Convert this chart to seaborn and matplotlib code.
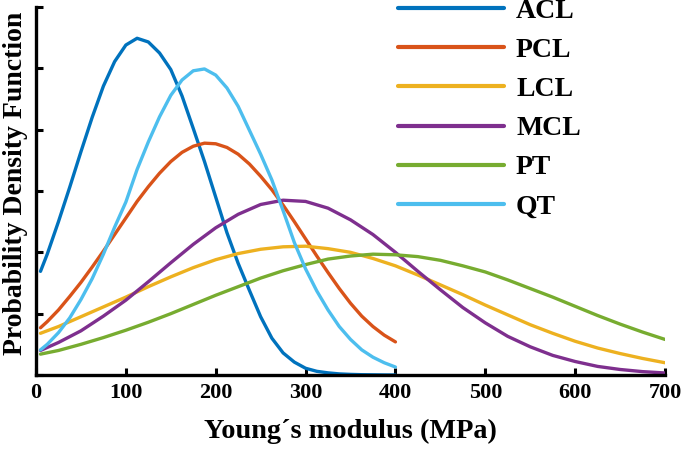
import numpy as np
import pandas as pd
import matplotlib
matplotlib.use('Agg')
import matplotlib.pyplot as plt
import seaborn as sns

# Young's modulus grid (MPa)
e_short = [5, 12.5, 25, 37.5, 50, 62.5, 75, 87.5, 100, 112.5, 125, 137.5, 150, 162.5,
           175, 187.5, 200, 212.5, 225, 237.5, 250, 262.5, 275, 287.5, 300, 312.5,
           325, 337.5, 350, 362.5, 375, 387.5, 400]
e_long = [5, 25, 50, 75, 100, 125, 150, 175, 200, 225, 250, 275, 300, 325, 350, 375,
          400, 425, 450, 475, 500, 525, 550, 575, 600, 625, 650, 675, 700]

# probability density (x 1e-3)
acl = [1.69, 1.97, 2.50, 3.06, 3.64, 4.20, 4.71, 5.11, 5.38, 5.49, 5.43, 5.25, 4.98,
       4.55, 4.02, 3.48, 2.90, 2.32, 1.82, 1.38, 0.95, 0.60, 0.36, 0.21, 0.11, 0.06,
       0.035, 0.018, 0.010, 0.005, 0.003, 0.001, 0.0]
pcl = [0.77, 0.87, 1.06, 1.28, 1.51, 1.76, 2.02, 2.29, 2.56, 2.83, 3.07, 3.29, 3.48,
       3.63, 3.73, 3.78, 3.77, 3.71, 3.60, 3.44, 3.24, 3.02, 2.77, 2.50, 2.22, 1.94,
       1.67, 1.41, 1.17, 0.96, 0.79, 0.65, 0.54]
qt = [0.41, 0.50, 0.69, 0.93, 1.23, 1.57, 1.97, 2.41, 2.82, 3.35, 3.80, 4.21, 4.56,
      4.81, 4.96, 4.99, 4.89, 4.68, 4.38, 3.99, 3.60, 3.18, 2.68, 2.16, 1.73, 1.37,
      1.06, 0.79, 0.58, 0.41, 0.29, 0.20, 0.13]
lcl = [0.68, 0.79, 0.95, 1.11, 1.27, 1.44, 1.60, 1.75, 1.88, 1.98, 2.05, 2.09, 2.10,
       2.06, 2.00, 1.90, 1.78, 1.63, 1.47, 1.31, 1.14, 0.98, 0.82, 0.68, 0.55, 0.44,
       0.35, 0.27, 0.20]
mcl = [0.40, 0.53, 0.72, 0.96, 1.22, 1.52, 1.83, 2.13, 2.40, 2.62, 2.78, 2.85, 2.83,
       2.72, 2.53, 2.29, 2.00, 1.69, 1.39, 1.10, 0.85, 0.63, 0.46, 0.32, 0.22, 0.14,
       0.09, 0.055, 0.033]
pt = [0.34, 0.40, 0.50, 0.61, 0.73, 0.86, 1.00, 1.15, 1.30, 1.44, 1.58, 1.70, 1.80,
      1.89, 1.94, 1.97, 1.96, 1.93, 1.87, 1.78, 1.68, 1.55, 1.41, 1.27, 1.12, 0.97,
      0.83, 0.70, 0.58]

names = ['ACL', 'PCL', 'LCL', 'MCL', 'PT', 'QT']
colors = ['#0072BD', '#D95319', '#EDB120', '#7E2F8E', '#77AC30', '#4DBEEE']

frames = []
for name, e, p in [('ACL', e_short, acl), ('PCL', e_short, pcl), ('LCL', e_long, lcl),
                   ('MCL', e_long, mcl), ('PT', e_long, pt), ('QT', e_short, qt)]:
    frames.append(pd.DataFrame({'E': e, 'pdf': p, 'tissue': name}))
df = pd.concat(frames, ignore_index=True)

sns.set_style('ticks')
plt.rcParams['font.family'] = ['Liberation Serif', 'DejaVu Serif']
plt.rcParams['font.weight'] = 'bold'
plt.rcParams['text.color'] = 'black'
plt.rcParams['axes.labelcolor'] = 'black'

fig = plt.figure(figsize=(6.85, 4.49), dpi=100)
ax = fig.add_axes([36 / 685, 74 / 449, 629 / 685, 368 / 449])

sns.lineplot(data=df, x='E', y='pdf', hue='tissue', hue_order=names,
             palette=colors, linewidth=2.4, ax=ax, sort=False)

ax.set_xlim(0, 700)
ax.set_ylim(0, 6)
ax.set_xticks(range(0, 701, 100))
ax.set_yticks(range(0, 7))
ax.set_yticklabels([])
ax.tick_params(direction='in', length=5, width=2.2, colors='black', labelsize=16, pad=6)
for lab in ax.get_xticklabels():
    lab.set_fontweight('bold')
sns.despine(ax=ax)
for s in ['left', 'bottom']:
    ax.spines[s].set_linewidth(2.4)
    ax.spines[s].set_color('black')

ax.set_xlabel('Young´s modulus (MPa)', fontsize=20.3, fontweight='bold', labelpad=11)
ax.set_ylabel('Probability Density Function', fontsize=20, fontweight='bold')
ax.yaxis.set_label_coords(-0.012, 0.52)

leg = ax.legend(loc='upper left', bbox_to_anchor=(398 / 685, 1.003), bbox_transform=fig.transFigure,
                frameon=False, fontsize=20, handlelength=3.8, handletextpad=0.45,
                labelspacing=0.49, borderpad=0, borderaxespad=0)
for line in leg.get_lines():
    line.set_linewidth(3)
for t in leg.get_texts():
    t.set_fontweight('bold')

fig.savefig('out.png', dpi=100)
